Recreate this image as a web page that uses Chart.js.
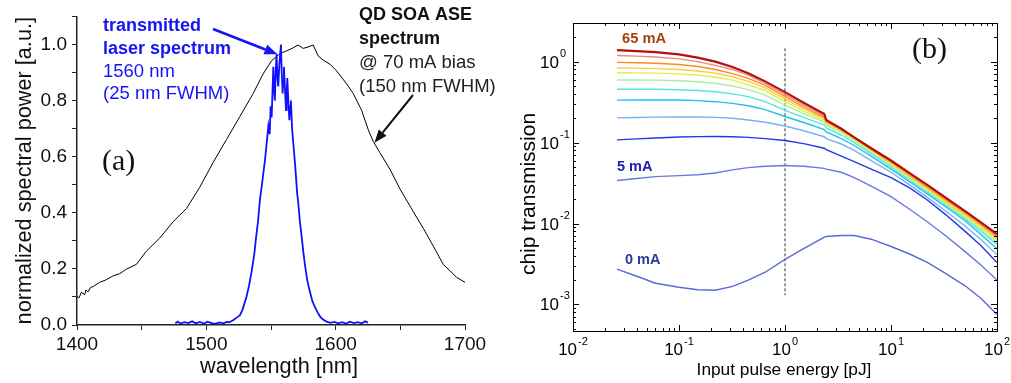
<!DOCTYPE html>
<html>
<head>
<meta charset="utf-8">
<script src="https://cdn.jsdelivr.net/npm/chart.js@4.4.1/dist/chart.umd.min.js"></script>
<style>
  body { margin: 0; background: #fff; }
  #wrap { position: relative; width: 1011px; height: 383px; }
  #chartA { position: absolute; left: 0; top: 0; }
  #chartB { position: absolute; left: 500px; top: 0; }
</style>
</head>
<body>
<div id="wrap">
  <canvas id="chartA" width="500" height="383"></canvas>
  <canvas id="chartB" width="511" height="383"></canvas>
</div>
<script>
// (a) ASE spectrum of the QD SOA and the transmitted laser spectrum
const aseWavelength = [1400, 1401.5, 1403.4, 1405.9, 1407, 1408.5, 1410.5, 1412.4, 1417.5, 1422, 1427.9, 1433, 1438.2, 1445.9, 1453.6, 1464, 1474.3, 1484.6, 1494.9, 1505.2, 1515.6, 1525.9, 1536.2, 1543.9, 1550.4, 1556.8, 1562, 1567.1, 1571, 1574.9, 1578.7, 1582.6, 1586.5, 1590.4, 1595.5, 1600.7, 1608.4, 1613.6, 1620, 1625.2, 1629, 1634.2, 1641.9, 1649.7, 1660, 1667.7, 1675.5, 1683.2, 1688.4, 1693.5, 1700];
const asePower = [0.102, 0.096, 0.117, 0.108, 0.125, 0.118, 0.134, 0.137, 0.152, 0.16, 0.175, 0.183, 0.199, 0.216, 0.263, 0.31, 0.368, 0.415, 0.491, 0.579, 0.661, 0.743, 0.825, 0.895, 0.942, 0.967, 0.977, 0.988, 0.998, 0.986, 0.991, 0.998, 0.959, 0.944, 0.93, 0.906, 0.86, 0.825, 0.766, 0.696, 0.655, 0.614, 0.556, 0.485, 0.404, 0.345, 0.281, 0.216, 0.193, 0.17, 0.152];

const laserWavelength = [1476, 1478, 1480, 1483, 1486, 1489, 1492, 1495, 1498, 1501, 1504, 1507, 1510, 1513, 1516, 1518, 1521, 1524, 1526, 1528, 1531, 1533, 1535, 1537, 1538.4, 1540, 1541.5, 1543, 1545.4, 1546.5, 1548, 1549, 1549.7, 1550.5, 1551.8, 1552.4, 1553, 1553.6, 1554.3, 1555, 1555.6, 1556.5, 1557.7, 1558.3, 1559, 1559.5, 1560, 1560.8, 1561.6, 1562.1, 1562.6, 1563.4, 1564.2, 1564.8, 1565.4, 1566.3, 1567.2, 1568.5, 1569.3, 1570.2, 1571, 1572.3, 1573.6, 1575, 1576.2, 1578, 1580, 1582, 1584, 1586, 1588, 1590, 1593, 1596, 1599, 1602, 1605, 1608, 1611, 1614, 1617, 1620, 1623, 1625];
const laserPower = [0.006, 0.012, 0.005, 0.010, 0.007, 0.013, 0.006, 0.011, 0.005, 0.012, 0.007, 0.004, 0.009, 0.006, 0.011, 0.010, 0.018, 0.028, 0.035, 0.055, 0.10, 0.14, 0.19, 0.25, 0.31, 0.37, 0.45, 0.50, 0.59, 0.64, 0.71, 0.68, 0.78, 0.74, 0.92, 0.84, 0.80, 0.90, 0.965, 0.88, 0.85, 0.93, 1.0, 0.90, 0.825, 0.87, 0.92, 0.84, 0.766, 0.83, 0.88, 0.80, 0.73, 0.78, 0.80, 0.70, 0.65, 0.58, 0.53, 0.47, 0.44, 0.37, 0.32, 0.26, 0.216, 0.16, 0.12, 0.085, 0.064, 0.045, 0.03, 0.02, 0.012, 0.008, 0.011, 0.006, 0.010, 0.005, 0.012, 0.007, 0.010, 0.006, 0.013, 0.008];

const wavelengthTicks = [1400, 1500, 1600, 1700];

// (b) chip transmission vs input pulse energy, one curve per bias current
const pulseEnergy = [0.026, 0.04, 0.06, 0.1, 0.15, 0.22, 0.32, 0.45, 0.65, 1, 1.5, 2.35, 2.45, 3.4, 4.5, 6.5, 10, 15, 22, 33, 50, 70, 100];
const curve65mA = [1.39, 1.35, 1.31, 1.23, 1.12, 1.00, 0.86, 0.72, 0.57, 0.42, 0.31, 0.225, 0.19, 0.148, 0.116, 0.085, 0.060, 0.042, 0.0300, 0.0207, 0.0142, 0.0104, 0.0074];
const curve2 = [1.19, 1.17, 1.14, 1.08, 1.00, 0.90, 0.80, 0.68, 0.54, 0.395, 0.29, 0.215, 0.185, 0.146, 0.115, 0.084, 0.059, 0.041, 0.0292, 0.0202, 0.0139, 0.0101, 0.0072];
const curve3 = [0.98, 0.97, 0.955, 0.92, 0.87, 0.80, 0.71, 0.62, 0.51, 0.37, 0.275, 0.205, 0.182, 0.144, 0.114, 0.083, 0.0575, 0.0399, 0.0283, 0.0196, 0.0135, 0.0098, 0.0069];
const curve4 = [0.835, 0.83, 0.82, 0.80, 0.765, 0.72, 0.65, 0.57, 0.475, 0.345, 0.26, 0.198, 0.178, 0.141, 0.112, 0.081, 0.056, 0.0388, 0.0273, 0.0189, 0.0130, 0.0094, 0.0066];
const curve5 = [0.73, 0.727, 0.72, 0.705, 0.68, 0.64, 0.59, 0.52, 0.44, 0.32, 0.245, 0.19, 0.173, 0.138, 0.110, 0.079, 0.0545, 0.0376, 0.0264, 0.0182, 0.0125, 0.0090, 0.0063];
const curve6 = [0.594, 0.593, 0.59, 0.58, 0.565, 0.54, 0.50, 0.45, 0.385, 0.29, 0.228, 0.18, 0.165, 0.133, 0.106, 0.077, 0.053, 0.0365, 0.0256, 0.0176, 0.0120, 0.0086, 0.0059];
const curve7 = [0.456, 0.456, 0.455, 0.45, 0.44, 0.425, 0.40, 0.37, 0.32, 0.25, 0.205, 0.165, 0.152, 0.124, 0.100, 0.073, 0.050, 0.0345, 0.0243, 0.0167, 0.0114, 0.0081, 0.0055];
const curve8 = [0.334, 0.335, 0.336, 0.335, 0.33, 0.32, 0.305, 0.285, 0.255, 0.21, 0.177, 0.145, 0.135, 0.112, 0.092, 0.068, 0.047, 0.0328, 0.0232, 0.0160, 0.0108, 0.0074, 0.0049];
const curve9 = [0.202, 0.204, 0.206, 0.207, 0.207, 0.205, 0.20, 0.19, 0.178, 0.16, 0.14, 0.118, 0.112, 0.096, 0.080, 0.060, 0.043, 0.0300, 0.0210, 0.0142, 0.0093, 0.0064, 0.0041];
const curve10 = [0.108, 0.111, 0.114, 0.117, 0.1185, 0.119, 0.118, 0.116, 0.112, 0.106, 0.097, 0.085, 0.082, 0.068, 0.058, 0.047, 0.037, 0.0275, 0.0195, 0.0128, 0.0080, 0.0054, 0.0033];
const curve5mA = [0.034, 0.036, 0.038, 0.039, 0.040, 0.042, 0.046, 0.049, 0.051, 0.052, 0.051, 0.048, 0.047, 0.043, 0.037, 0.029, 0.0215, 0.0150, 0.0105, 0.0070, 0.0045, 0.0031, 0.0020];
const curve0mA = [0.00273, 0.00223, 0.00183, 0.00163, 0.00152, 0.00150, 0.00167, 0.0020, 0.0025, 0.0036, 0.0049, 0.0068, 0.0069, 0.0071, 0.0071, 0.0064, 0.0052, 0.0042, 0.0033, 0.0024, 0.0017, 0.0012, 0.00075];

const curves = [curve65mA, curve2, curve3, curve4, curve5, curve6, curve7, curve8, curve9, curve10, curve5mA, curve0mA];
const curveColors = ['#b01010', '#f08878', '#ff8a1c', '#ffcc40', '#dcf048', '#a8f0a0', '#50e8d8', '#20c0f0', '#78b2f0', '#2038e8', '#6878e0', '#5a6ad4'];

const markerEnergy = [1, 1];
const markerRange = [1.46, 0.0013];

const decadesX = [-2, -1, 0, 1, 2];
const decadesY = [0, -1, -2, -3];

const SANS = '"Liberation Sans", Arial, sans-serif';
const SERIF = '"Liberation Serif", "Times New Roman", serif';

function pts(xs, ys) {
  return xs.map((x, i) => ({ x: x, y: ys[i] }));
}

function arrow(ctx, x1, y1, x2, y2, color, lw, len, half) {
  const ang = Math.atan2(y2 - y1, x2 - x1);
  const bx = x2 - len * Math.cos(ang), by = y2 - len * Math.sin(ang);
  ctx.strokeStyle = color;
  ctx.fillStyle = color;
  ctx.lineWidth = lw;
  ctx.beginPath();
  ctx.moveTo(x1, y1);
  ctx.lineTo(bx, by);
  ctx.stroke();
  ctx.beginPath();
  ctx.moveTo(x2, y2);
  ctx.lineTo(bx + half * Math.sin(ang), by - half * Math.cos(ang));
  ctx.lineTo(bx - half * Math.sin(ang), by + half * Math.cos(ang));
  ctx.closePath();
  ctx.fill();
}

function text(ctx, str, x, y, font, color) {
  ctx.font = font;
  ctx.fillStyle = color;
  ctx.fillText(str, x, y);
}

// texts and arrows of panel (a)
const annotA = {
  id: 'annotA',
  afterDraw(chart) {
    const ctx = chart.ctx;
    const xs = chart.scales.x, ys = chart.scales.y;
    ctx.save();
    ctx.textAlign = 'left';
    ctx.textBaseline = 'alphabetic';

    text(ctx, 'transmitted', 103, 31, 'bold 18px ' + SANS, '#1414f5');
    text(ctx, 'laser spectrum', 103, 54, 'bold 18px ' + SANS, '#1414f5');
    text(ctx, '1560 nm', 103, 77, '18.5px ' + SANS, '#1414f5');
    text(ctx, '(25 nm FWHM)', 103, 99, '18.5px ' + SANS, '#1414f5');

    text(ctx, 'QD SOA ASE', 359, 20, 'bold 18px ' + SANS, '#111');
    text(ctx, 'spectrum', 359, 44, 'bold 18px ' + SANS, '#111');
    text(ctx, '@ 70 mA bias', 359, 68, '18.5px ' + SANS, '#222');
    text(ctx, '(150 nm FWHM)', 359, 92, '18.5px ' + SANS, '#222');

    text(ctx, '(a)', 102, 170, '30px ' + SERIF, '#111');

    arrow(ctx, 213, 29, xs.getPixelForValue(1555), ys.getPixelForValue(0.965), '#1414f5', 2.5, 13, 5);
    arrow(ctx, 413, 95, xs.getPixelForValue(1630), ys.getPixelForValue(0.65), '#111', 2, 13, 5);

    // axis titles
    ctx.textAlign = 'center';
    text(ctx, 'wavelength [nm]', (xs.left + xs.right) / 2 + 8, 373, '21.7px ' + SANS, '#111');
    ctx.translate(31, (ys.top + ys.bottom) / 2);
    ctx.rotate(-Math.PI / 2);
    text(ctx, 'normalized spectral power [a.u.]', 0, 0, '21.7px ' + SANS, '#111');
    ctx.restore();
  }
};

new Chart(document.getElementById('chartA'), {
  type: 'line',
  data: {
    datasets: [
      {
        data: pts(laserWavelength, laserPower),
        borderColor: '#1010ff',
        borderWidth: 1.8,
        pointRadius: 0,
        tension: 0
      },
      {
        data: pts(aseWavelength, asePower),
        borderColor: '#000',
        borderWidth: 1,
        pointRadius: 0,
        tension: 0
      }
    ]
  },
  options: {
    responsive: false,
    animation: false,
    layout: { padding: { top: 11.5, right: 35, left: 0, bottom: 0 } },
    plugins: { legend: { display: false }, tooltip: { enabled: false } },
    scales: {
      x: {
        type: 'linear',
        min: 1400,
        max: 1700,
        afterFit: (s) => { s.height = 58; },
        border: { display: true, color: '#222', width: 1.5 },
        grid: { display: true, drawOnChartArea: false, drawTicks: true, tickLength: 5, color: '#222' },
        ticks: {
          stepSize: 50,
          padding: 3,
          color: '#111',
          font: { family: SANS, size: 19 },
          callback: (v) => (wavelengthTicks.includes(v) ? String(v) : '')
        }
      },
      y: {
        type: 'linear',
        min: 0,
        max: 1.1,
        afterFit: (s) => { s.width = 77; },
        border: { display: true, color: '#222', width: 1.5 },
        grid: { display: true, drawOnChartArea: false, drawTicks: true, tickLength: 5, color: '#222' },
        ticks: {
          stepSize: 0.1,
          padding: 5,
          color: '#111',
          font: { family: SANS, size: 19 },
          callback: (v) => {
            const k = Math.round(v * 10);
            return k % 2 === 0 && k <= 10 ? (k / 10).toFixed(1) : '';
          }
        }
      }
    }
  },
  plugins: [annotA]
});

// frame, inward ticks, power-of-ten labels and texts of panel (b)
function powerLabel(ctx, exp, x, yBase, ySup, align) {
  ctx.font = '17px ' + SANS;
  const wb = ctx.measureText('10').width;
  ctx.font = '11px ' + SANS;
  const we = ctx.measureText(exp).width;
  const x0 = align === 'right' ? x - wb : x - (wb + we + 1) / 2;
  ctx.textAlign = 'left';
  text(ctx, '10', x0, yBase, '17px ' + SANS, '#000');
  text(ctx, exp, x0 + wb + 1, ySup, '11px ' + SANS, '#000');
}

const frameB = {
  id: 'frameB',
  afterDraw(chart) {
    const ctx = chart.ctx;
    const a = chart.chartArea;
    const xs = chart.scales.x, ys = chart.scales.y;
    ctx.save();
    ctx.strokeStyle = '#000';
    ctx.lineWidth = 1;
    ctx.strokeRect(Math.round(a.left) + 0.5, Math.round(a.top) + 0.5, Math.round(a.right - a.left), Math.round(a.bottom - a.top));

    const seg = (x1, y1, x2, y2) => { ctx.beginPath(); ctx.moveTo(x1, y1); ctx.lineTo(x2, y2); ctx.stroke(); };
    for (let e = -2; e <= 2; e++) {
      for (let m = 1; m <= 9; m++) {
        const v = m * Math.pow(10, e);
        if (v < xs.min * 0.999 || v > xs.max * 1.001) continue;
        const px = Math.round(xs.getPixelForValue(v)) + 0.5;
        const len = m === 1 ? 6 : 3;
        seg(px, a.bottom, px, a.bottom - len);
        seg(px, a.top, px, a.top + len);
      }
    }
    for (let e = -4; e <= 0; e++) {
      for (let m = 1; m <= 9; m++) {
        const v = m * Math.pow(10, e);
        if (v < ys.min || v > ys.max) continue;
        const py = Math.round(ys.getPixelForValue(v)) + 0.5;
        const len = m === 1 ? 6 : 3;
        seg(a.left, py, a.left + len, py);
        seg(a.right, py, a.right - len, py);
      }
    }

    decadesX.forEach((e) => {
      const px = xs.getPixelForValue(Math.pow(10, e));
      powerLabel(ctx, e < 0 ? '-' + (-e) : String(e), px, 355, 345, 'center');
    });
    decadesY.forEach((e) => {
      const py = ys.getPixelForValue(Math.pow(10, e));
      powerLabel(ctx, e < 0 ? '-' + (-e) : String(e), 59, py + 6, py - 5, 'right');
    });

    ctx.textAlign = 'left';
    text(ctx, '65 mA', 122, 43, 'bold 14.7px ' + SANS, '#a5410c');
    text(ctx, '5 mA', 117, 171, 'bold 14.5px ' + SANS, '#2020b0');
    text(ctx, '0 mA', 125, 264, 'bold 14.5px ' + SANS, '#283c9c');
    text(ctx, '(b)', 412, 58, '30px ' + SERIF, '#111');

    ctx.textAlign = 'center';
    text(ctx, 'Input pulse energy [pJ]', 284, 375, '17.3px ' + SANS, '#000');
    ctx.translate(35, 194);
    ctx.rotate(-Math.PI / 2);
    text(ctx, 'chip transmission', 0, 0, '21px ' + SANS, '#000');
    ctx.restore();
  }
};

const datasetsB = curves.map((c, i) => ({
  data: pts(pulseEnergy, c),
  borderColor: curveColors[i],
  borderWidth: i === 0 ? 2.2 : 1.4,
  pointRadius: 0,
  tension: 0
}));
datasetsB.push({
  data: pts(markerEnergy, markerRange),
  borderColor: '#333',
  borderWidth: 1,
  borderDash: [3, 2],
  pointRadius: 0
});

new Chart(document.getElementById('chartB'), {
  type: 'line',
  data: { datasets: datasetsB },
  options: {
    responsive: false,
    animation: false,
    layout: { padding: { top: 23, right: 14, left: 0, bottom: 0 } },
    plugins: { legend: { display: false }, tooltip: { enabled: false } },
    scales: {
      x: {
        type: 'logarithmic',
        min: 0.01,
        max: 100,
        afterFit: (s) => { s.height = 52; },
        border: { display: false },
        grid: { display: false },
        ticks: { display: false }
      },
      y: {
        type: 'logarithmic',
        min: 0.00047,
        max: 3,
        afterFit: (s) => { s.width = 73; },
        border: { display: false },
        grid: { display: false },
        ticks: { display: false }
      }
    }
  },
  plugins: [frameB]
});
</script>
</body>
</html>
